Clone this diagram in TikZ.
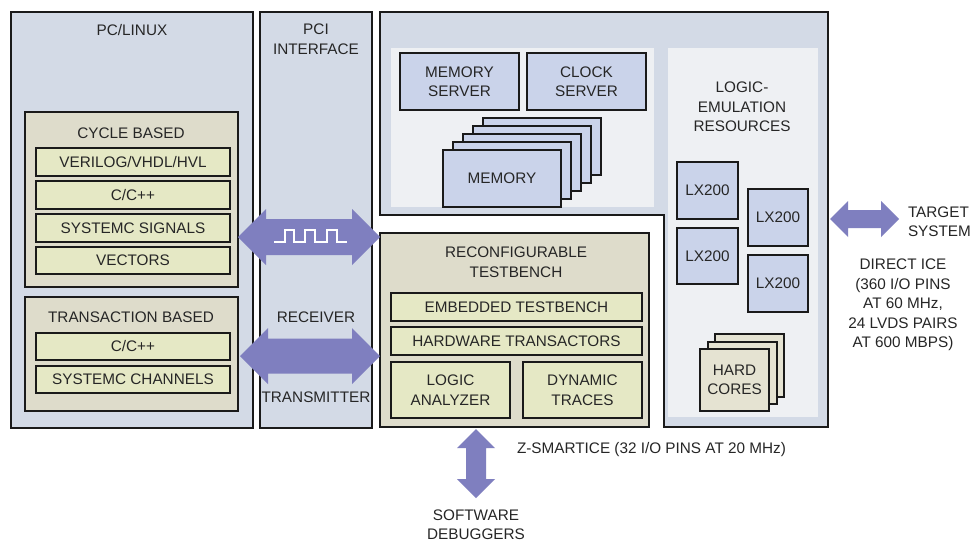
\documentclass[tikz,border=0pt]{standalone}
\usepackage{fontspec}
\setmainfont{Liberation Sans}
\usetikzlibrary{calc}
\definecolor{outerc}{HTML}{D3DAE6}
\definecolor{panelc}{HTML}{EEF0F3}
\definecolor{bluec}{HTML}{CAD3EA}
\definecolor{tanc}{HTML}{DEDCCB}
\definecolor{greenc}{HTML}{E5E8C5}
\definecolor{hardc}{HTML}{E5E3D2}
\definecolor{arrowc}{HTML}{7F7FBF}
\definecolor{linec}{HTML}{1A1A1A}
\definecolor{textc}{HTML}{262626}
\tikzset{
  every node/.style={font=\fontsize{15.3}{19.5}\selectfont, text=textc, inner sep=0pt, outer sep=0pt},
  frame/.style={draw=linec, line width=2.4pt},
  outerbox/.style={frame, fill=outerc, rectangle},
  tanbox/.style={frame, fill=tanc, rectangle},
  greenbox/.style={frame, fill=greenc, rectangle},
  bluebox/.style={frame, fill=bluec, rectangle},
  hardbox/.style={frame, fill=hardc, rectangle},
  panelbox/.style={fill=panelc, rectangle},
  lbl/.style={align=center},
  fat/.style={fill=arrowc},
}
\newcommand\mybox[7]{\node[#1, align=center, anchor=north west, minimum width={(#5-#3)*1pt}, minimum height={(#6-#4)*1pt}] (#2) at (#3,#4) {};
  \node[lbl] at (#2.center) {#7};}
\newcommand\hfat[5]{\fill[fat] (#1) -- ($(#1)+(#3,-#4)$) -- ($(#1)+(#3,-#5)$) -- ($(#2)+(-#3,-#5)$) -- ($(#2)+(-#3,-#4)$) -- (#2) -- ($(#2)+(-#3,#4)$) -- ($(#2)+(-#3,#5)$) -- ($(#1)+(#3,#5)$) -- ($(#1)+(#3,#4)$) -- cycle;}
\newcommand\vfat[5]{\fill[fat] (#1) -- ($(#1)+(-#4,#3)$) -- ($(#1)+(-#5,#3)$) -- ($(#2)+(-#5,-#3)$) -- ($(#2)+(-#4,-#3)$) -- (#2) -- ($(#2)+(#4,-#3)$) -- ($(#2)+(#5,-#3)$) -- ($(#1)+(#5,#3)$) -- ($(#1)+(#4,#3)$) -- cycle;}
\begin{document}
\begin{tikzpicture}[x=1pt,y={(0pt,-1pt)}]
\fill[white] (0,0) rectangle (978,541);
\useasboundingbox (0,0) rectangle (978,541);

% PC / LINUX
\mybox{outerbox}{pc}{11}{12}{253}{428}{}
\node[lbl] (pclbl) at (132,30) {PC/LINUX};
\mybox{tanbox}{cyc}{25}{112}{238}{287}{}
\node[lbl] (cyclbl) at (131,133) {CYCLE BASED};
\mybox{greenbox}{g1}{36}{148}{230}{176}{VERILOG/VHDL/HVL}
\mybox{greenbox}{g2}{36}{181}{230}{209}{C/C++}
\mybox{greenbox}{g3}{36}{214}{230}{242}{SYSTEMC SIGNALS}
\mybox{greenbox}{g4}{36}{247}{230}{274}{VECTORS}
\mybox{tanbox}{trn}{25}{297}{238}{411}{}
\node[lbl] (trnlbl) at (131,317) {TRANSACTION BASED};
\mybox{greenbox}{g5}{36}{333}{230}{360}{C/C++}
\mybox{greenbox}{g6}{36}{366}{230}{393}{SYSTEMC CHANNELS}

% PCI
\mybox{outerbox}{pci}{260}{12}{372}{428}{}
\node[lbl] (pcilbl) at (316,39) {PCI\\INTERFACE};

% emulator outline
\filldraw[frame, fill=outerc] (380,12) -- (828,12) -- (828,427) -- (664,427) -- (664,215) -- (380,215) -- cycle;
\mybox{panelbox}{pl}{391}{48}{654}{207}{}
\mybox{panelbox}{pr}{668}{48}{818}{417}{}
\mybox{bluebox}{msrv}{400}{53}{519}{110}{MEMORY\\SERVER}
\mybox{bluebox}{csrv}{527}{53}{646}{110}{CLOCK\\SERVER}
\foreach \i in {4,3,2,1} {
  \node[bluebox, anchor=north west, minimum width=118pt, minimum height=57pt] (mem\i) at (443+10*\i,150-8*\i) {};
}
\mybox{bluebox}{mem}{443}{150}{561}{207}{MEMORY}
\node[lbl] (ler) at (742,107) {LOGIC-\\EMULATION\\RESOURCES};
\mybox{bluebox}{lx1}{677}{162}{738}{219}{LX200}
\mybox{bluebox}{lx2}{748}{189}{808}{246}{LX200}
\mybox{bluebox}{lx3}{677}{228}{738}{284}{LX200}
\mybox{bluebox}{lx4}{748}{255}{808}{312}{LX200}
\mybox{hardbox}{hc3}{715}{334}{784}{397}{}
\mybox{hardbox}{hc2}{708}{342}{777}{404}{}
\mybox{hardbox}{hc1}{700}{349}{769}{411}{HARD\\CORES}

% testbench
\mybox{tanbox}{tb}{380}{233}{649}{427}{}
\node[lbl] (tblbl) at (516,262) {RECONFIGURABLE\\TESTBENCH};
\mybox{greenbox}{emb}{391}{293}{642}{321}{EMBEDDED TESTBENCH}
\mybox{greenbox}{hwt}{391}{327}{642}{355}{HARDWARE TRANSACTORS}
\mybox{greenbox}{la}{391}{362}{510}{418}{LOGIC\\ANALYZER}
\mybox{greenbox}{dt}{523}{362}{642}{418}{DYNAMIC\\TRACES}

% connectors
\coordinate (a1L) at (238,237);
\coordinate (a1R) at (380,237);
\hfat{a1L}{a1R}{28}{28}{18}
\draw[white, line width=1.4pt] (274,242) -- (285,242) -- (285,230) -- (294,230) -- (294,242) -- (305,242) -- (305,230) -- (315,230) -- (315,242) -- (327,242) -- (327,230) -- (337,230) -- (337,242) -- (347,242);
\coordinate (a2L) at (240,356);
\coordinate (a2R) at (380,356);
\hfat{a2L}{a2R}{28}{28}{17.5}
\node[lbl] (rcv) at (316,317) {RECEIVER};
\node[lbl] (tmt) at (316,397) {TRANSMITTER};

\coordinate (a3L) at (830,219);
\coordinate (a3R) at (899,219);
\hfat{a3L}{a3R}{18}{18}{9}
\node[align=left, anchor=west] (tgt) at (908,221.5) {TARGET\\SYSTEM};
\node[lbl] (ice) at (903,305) {DIRECT ICE\\(360 I/O PINS\\AT 60 MHz,\\24 LVDS PAIRS\\AT 600 MBPS)};

\coordinate (a4T) at (476,429);
\coordinate (a4B) at (476,498);
\vfat{a4T}{a4B}{19}{19}{10}
\node[anchor=west] (zs) at (517,450) {Z-SMARTICE (32 I/O PINS AT 20 MHz)};
\node[lbl] (sd) at (476,524.5) {SOFTWARE\\DEBUGGERS};
\end{tikzpicture}
\end{document}
